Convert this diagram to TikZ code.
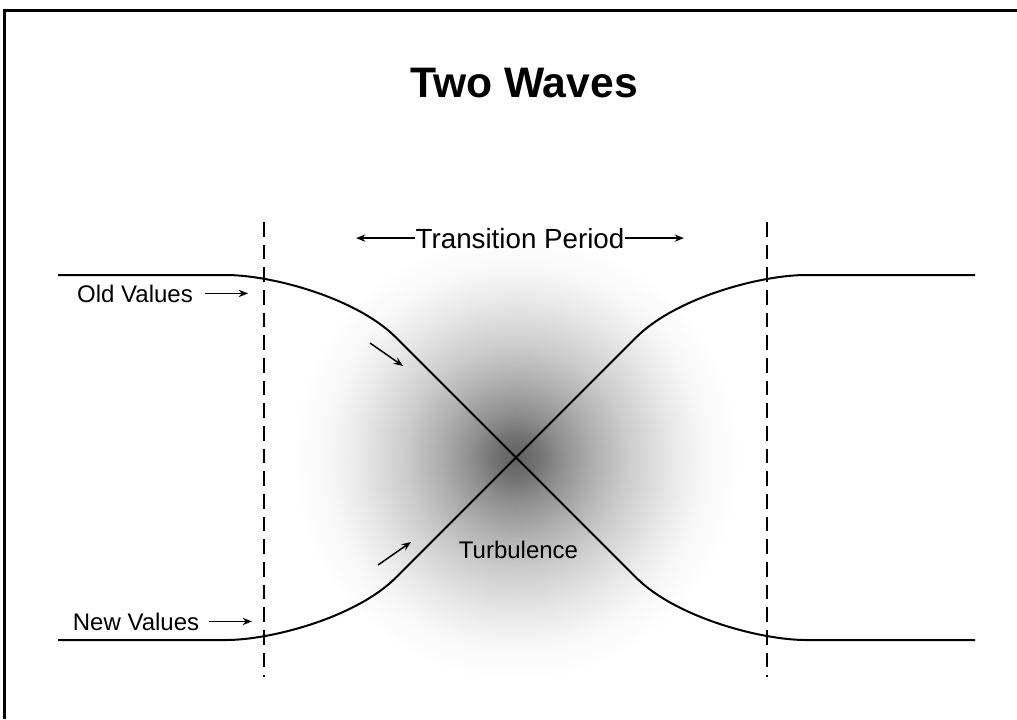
\documentclass[tikz,border=0pt]{standalone}
\usepackage{fontspec}
\setmainfont{Liberation Sans}
\usetikzlibrary{arrows.meta}
\pgfdeclareradialshading{turb}{\pgfpoint{0bp}{0bp}}{%
 color(0bp)=(black!62);
 color(2.5bp)=(black!55);
 color(5bp)=(black!44);
 color(8.75bp)=(black!31);
 color(12.5bp)=(black!20);
 color(17.5bp)=(black!9);
 color(21bp)=(black!3);
 color(25bp)=(white);
 color(50bp)=(white)}
\tikzset{
  curve/.style={line width=1.5pt, line join=round},
  guide/.style={line width=1.4pt, dash pattern=on 11pt off 6pt},
  arr/.style={line width=1.1pt, -{Stealth[length=7pt,width=5.5pt]}},
  lbl/.style={font=\fontsize{18}{20}\selectfont, inner sep=0pt, anchor=base},
  frame/.style={line width=1.6pt}
}
\begin{document}
\begin{tikzpicture}[x=0.75pt,y=-0.75pt]
\useasboundingbox (0,0) rectangle (1017,719);
% frame
\coordinate (fBL) at (4.5,719); \coordinate (fTL) at (4.5,10.5); \coordinate (fTR) at (1017,10.5);
\draw[frame] (fBL) -- (fTL) -- (fTR);
% turbulence shading
\shade[shading=turb] (516,457.5) circle[radius=168pt];
% title
\node[font=\fontsize{32}{36}\bfseries, inner sep=0pt, anchor=base] (title) at (524,97) {Two Waves};
% guides
\coordinate (gLt) at (264,222); \coordinate (gLb) at (264,677);
\coordinate (gRt) at (767,222); \coordinate (gRb) at (767,677);
\draw[guide] (gLt) -- (gLb);
\draw[guide] (gRt) -- (gRb);
% curves
\draw[curve] (58,275) -- (226,275) .. controls (271,275) and (356,297.5) .. (396,337.5)
  -- (636,577.5) .. controls (676,617.5) and (761,640) .. (806,640) -- (975,640);
\draw[curve] (58,640) -- (226,640) .. controls (271,640) and (356,617.5) .. (396,577.5)
  -- (636,337.5) .. controls (676,297.5) and (761,275) .. (806,275) -- (975,275);
% transition period
\node[font=\fontsize{20.8}{24}\selectfont, inner sep=0pt, anchor=base] (tp) at (520,248) {Transition Period};
\coordinate (tpL) at (356,238); \coordinate (tpR) at (684,238);
\draw[arr] (tp.west) -- (tp.west -| tpL);
\draw[arr] (tp.east) -- (tp.east -| tpR);
% labels
\node[lbl] (old) at (135,302) {Old Values};
\node[lbl] (new) at (136,630) {New Values};
\node[lbl] (turb) at (518.5,558) {Turbulence};
\coordinate (oldtip) at (248,297);
\coordinate (newtip) at (252,620);
\draw[arr] ([xshift=9pt]old.east) -- (old.east -| oldtip);
\draw[arr] ([xshift=7.5pt]new.east) -- (new.east -| newtip);
% direction arrows
\coordinate (d1s) at (370,343); \coordinate (d1e) at (403,366);
\coordinate (d2s) at (378,565); \coordinate (d2e) at (411,542);
\draw[arr] (d1s) -- (d1e);
\draw[arr] (d2s) -- (d2e);
\end{tikzpicture}
\end{document}
